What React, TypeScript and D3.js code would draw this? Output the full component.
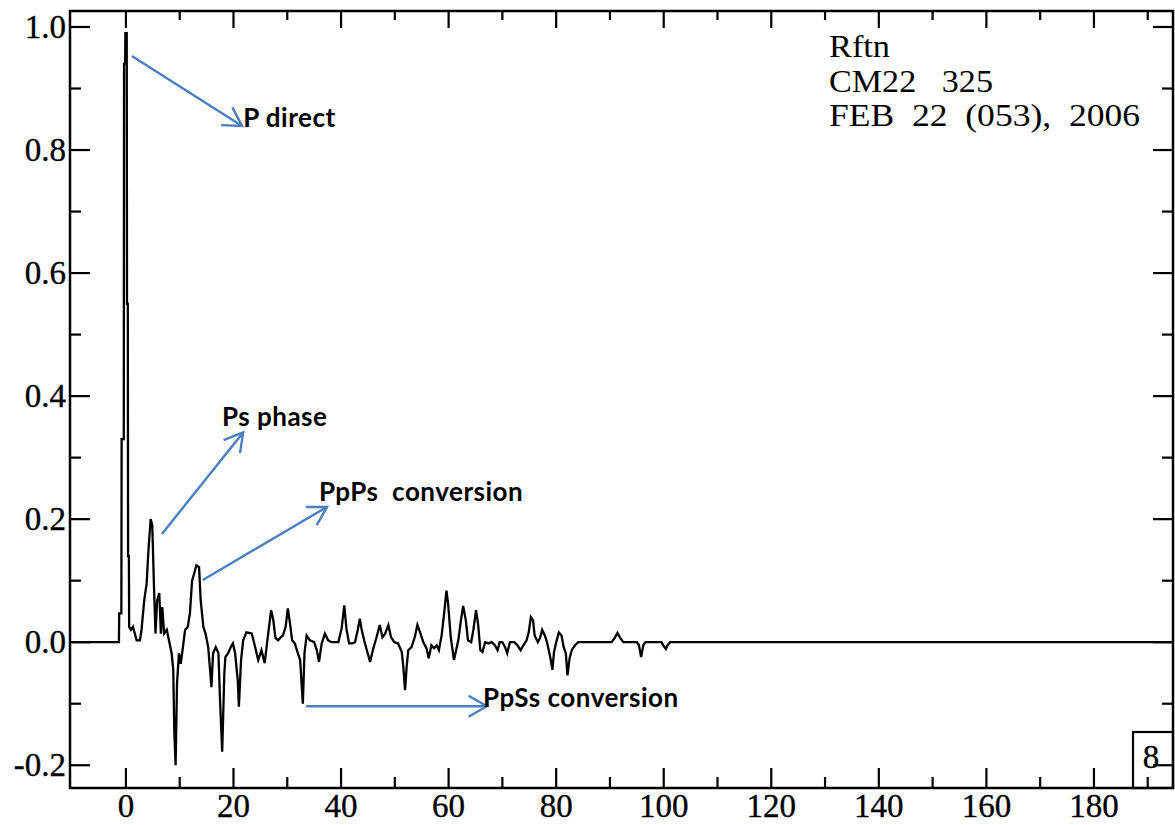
import React from 'react';
import * as d3 from 'd3';

// ---- data (time in s, amplitude) ----
const times = [
  -10.4, -1.3, -1.25, -0.85, -0.8, -0.4, -0.35, -0.15, -0.1, 0.15, 0.2, 0.35, 0.4, 0.55, 0.6, 0.93, 1.3,
  2.0, 2.6, 2.9, 3.4, 3.85, 4.15, 4.6, 4.9, 5.2, 5.5, 5.8, 6.2, 6.5, 6.76, 7.1, 7.6, 8.0, 8.5, 8.8,
  9.0, 9.24, 9.5, 9.86, 10.2, 10.6, 11.0, 11.5, 11.9, 12.3, 12.7, 13.1, 13.6, 13.9, 14.4, 14.8, 15.3,
  15.6, 15.9, 16.2, 16.7, 17.2, 17.5, 17.9, 18.3, 18.5, 19.0, 19.5, 19.9, 20.3, 20.8, 21.0, 21.4, 21.8,
  22.4, 23.4, 24.0, 24.6, 25.2, 25.8, 26.3, 27.0, 27.4, 27.8, 28.3, 28.8, 29.2, 29.7, 30.1, 30.5, 30.9,
  31.4, 31.9, 32.4, 32.7, 32.9, 33.2, 33.6, 34.2, 35.0, 35.5, 35.9, 36.4, 37.0, 37.6, 38.2, 39.5, 40.1,
  40.6, 41.0, 41.5, 42.1, 42.6, 43.1, 43.5, 43.8, 44.3, 44.8, 45.4, 46.0, 46.6, 47.2, 47.7, 48.2, 48.8,
  49.3, 49.9, 50.6, 51.3, 51.6, 51.9, 52.2, 52.5, 53.1, 53.7, 54.2, 54.7, 55.3, 55.9, 56.3, 56.8, 57.3,
  57.8, 58.2, 58.7, 59.1, 59.6, 59.9, 60.4, 61.0, 61.8, 62.3, 62.7, 63.2, 63.6, 64.2, 64.6, 65.1, 65.5,
  65.9, 66.3, 66.8, 67.4, 68.0, 68.6, 69.1, 69.5, 70.0, 70.5, 70.9, 71.4, 72.2, 72.8, 73.4, 73.9, 74.5,
  74.9, 75.3, 75.7, 76.0, 76.6, 77.0, 77.4, 77.9, 78.3, 78.7, 79.0, 79.3, 79.6, 80.1, 80.5, 81.0, 81.4,
  81.8, 82.1, 82.5, 82.9, 83.5, 84.1, 90.3, 90.9, 91.4, 91.9, 92.5, 95.0, 95.4, 95.8, 96.2, 96.6, 99.6,
  99.9, 100.4, 100.7, 101.2, 194.7,
];
const amplitudes = [
  0, 0, 0.047, 0.047, 0.33, 0.33, 0.94, 0.94, 0.99, 0.99, 0.55, 0.55, 0.14, 0.14, 0.025, 0.02, 0.025,
  0.003, 0.003, 0.02, 0.068, 0.095, 0.145, 0.2, 0.19, 0.095, 0.014, 0.068, 0.08, 0.014, 0.057, 0.014, 0.02, 0.003, -0.018, -0.045,
  -0.148, -0.2, -0.067, -0.018, -0.035, -0.008, 0.02, 0.025, 0.047, 0.1, 0.112, 0.125, 0.122, 0.068, 0.025, 0.014, -0.008,
  -0.04, -0.073, -0.018, -0.008, -0.018, -0.094, -0.178, -0.05, -0.024, -0.018, -0.008, -0.002, -0.018, -0.062, -0.105, -0.03, 0.003,
  0.016, 0.014, -0.007, -0.029, -0.013, -0.034, 0.003, 0.052, 0.036, 0.007, 0.003, 0.008, 0.011, 0.025, 0.055, 0.031, 0.003,
  -0.002, -0.016, -0.029, -0.073, -0.1, -0.018, 0.011, 0.003, 0, -0.013, -0.032, -0.002, 0.014, 0.003, 0, 0, 0.022,
  0.06, 0.022, -0.002, -0.002, 0, 0.02, 0.038, 0.022, 0.003, -0.013, -0.032, -0.01, 0.008, 0.028, 0.008, 0.014, 0.028,
  0.008, 0, -0.002, -0.016, -0.042, -0.078, -0.04, -0.013, -0.008, 0.008, 0.028, 0.016, 0, -0.01, -0.026, -0.005, -0.01,
  -0.005, -0.013, 0.011, 0.041, 0.084, 0.063, 0.008, -0.029, 0.003, 0.036, 0.059, 0.036, 0.003, 0, 0.02, 0.052, 0.028,
  -0.013, -0.016, 0, -0.002, 0, -0.005, -0.013, 0, 0, -0.008, -0.018, 0, 0, -0.005, -0.013, -0.005, 0.003,
  0.016, 0.041, 0.036, 0.011, 0, 0.007, 0.02, 0.011, 0, -0.016, -0.029, -0.045, -0.016, 0.003, 0.016, 0.011, -0.008,
  -0.018, -0.054, -0.026, -0.013, -0.005, 0, 0, 0.007, 0.015, 0.007, 0, 0, -0.005, -0.024, -0.005, 0, 0,
  -0.005, -0.011, -0.005, 0, 0,
];

const xMajorTicks = [0, 20, 40, 60, 80, 100, 120, 140, 160, 180];
const xMinorTicks = [10, 30, 50, 70, 90, 110, 130, 150, 170, 190];
const yMajorTicks = [-0.2, 0, 0.2, 0.4, 0.6, 0.8, 1.0];
const yMinorTicks = [-0.1, 0.1, 0.3, 0.5, 0.7, 0.9];
const yTickLabels = ['-0.2', '0.0', '0.2', '0.4', '0.6', '0.8', '1.0'];
const infoLines = ['Rftn', 'CM22   325', 'FEB  22  (053),  2006'];
const infoWidths = [61, 164, 311];
const panelNumber = '8';

const annotationLabels = ['P direct', 'Ps phase', 'PpPs  conversion', 'PpSs conversion'];
const arrowFrom: [number, number][] = [[1.1, 0.953], [6.7, 0.176], [14.3, 0.101], [33.5, -0.104]];
const arrowTo: [number, number][] = [[21.6, 0.839], [21.8, 0.341], [37.4, 0.22], [67.1, -0.104]];
const labelAt: [number, number][] = [[21.8, 0.837], [17.85, 0.351], [35.9, 0.229], [66.4, -0.106]];

const W = 1175;
const H = 825;
const frame = { left: 70, right: 1173, top: 11, bottom: 788 };
const SERIF = '"Liberation Serif", "Times New Roman", serif';
const SANS = 'Lato, "Open Sans", sans-serif';
const BLUE = '#4a7ebf';

export default function App() {
  const x = d3.scaleLinear().domain([-10.4, 194.7]).range([frame.left, frame.right]);
  const y = d3.scaleLinear().domain([-0.237, 1.026]).range([frame.bottom, frame.top]);
  const line = d3
    .line<number>()
    .x((_, i) => x(times[i]))
    .y((d) => y(d));
  const pathD = line(amplitudes) || '';

  const major = 20;
  const minor = 11;

  const arrowHead = (fx: number, fy: number, tx: number, ty: number) => {
    const a = Math.atan2(ty - fy, tx - fx);
    const L = 21;
    const s = Math.PI / 6;
    const p1 = [tx - L * Math.cos(a - s), ty - L * Math.sin(a - s)];
    const p2 = [tx - L * Math.cos(a + s), ty - L * Math.sin(a + s)];
    return `M${p1[0]},${p1[1]}L${tx},${ty}L${p2[0]},${p2[1]}`;
  };

  const serifStroke = { stroke: '#000', strokeWidth: 0.35 };

  return (
    <svg
      width={W}
      height={H}
      style={{ position: 'absolute', left: 0, top: 0, background: '#fff' }}
    >
      <rect x={0} y={0} width={W} height={H} fill="#fff" />
      <defs>
        <clipPath id="plotclip">
          <rect x={frame.left} y={frame.top} width={frame.right - frame.left} height={frame.bottom - frame.top} />
        </clipPath>
      </defs>

      {/* ticks */}
      <g stroke="#000" strokeWidth={2.2}>
        {xMajorTicks.map((t) => (
          <g key={'xM' + t}>
            <line x1={x(t)} x2={x(t)} y1={frame.bottom} y2={frame.bottom - major} />
            <line x1={x(t)} x2={x(t)} y1={frame.top} y2={frame.top + major - 3} />
          </g>
        ))}
        {xMinorTicks.map((t) => (
          <g key={'xm' + t}>
            <line x1={x(t)} x2={x(t)} y1={frame.bottom} y2={frame.bottom - minor} />
            <line x1={x(t)} x2={x(t)} y1={frame.top} y2={frame.top + minor - 2} />
          </g>
        ))}
        {yMajorTicks.map((v) => (
          <g key={'yM' + v}>
            <line x1={frame.left} x2={frame.left + major} y1={y(v)} y2={y(v)} />
            <line x1={frame.right} x2={frame.right - major} y1={y(v)} y2={y(v)} />
          </g>
        ))}
        {yMinorTicks.map((v) => (
          <g key={'ym' + v}>
            <line x1={frame.left} x2={frame.left + minor} y1={y(v)} y2={y(v)} />
            <line x1={frame.right} x2={frame.right - minor} y1={y(v)} y2={y(v)} />
          </g>
        ))}
      </g>

      {/* waveform */}
      <path
        d={pathD}
        fill="none"
        stroke="#000"
        strokeWidth={2.3}
        strokeLinejoin="miter"
        clipPath="url(#plotclip)"
      />

      {/* frame */}
      <rect
        x={frame.left}
        y={frame.top}
        width={frame.right - frame.left}
        height={frame.bottom - frame.top}
        fill="none"
        stroke="#000"
        strokeWidth={2.5}
      />

      {/* panel number box */}
      <rect x={1133} y={732} width={frame.right - 1133} height={frame.bottom - 732} fill="none" stroke="#000" strokeWidth={2.2} />
      <text x={1151} y={768} fontFamily={SERIF} fontSize={33} textAnchor="middle" fill="#000" {...serifStroke}>
        {panelNumber}
      </text>

      {/* axis labels */}
      {xMajorTicks.map((t) => (
        <text key={'xl' + t} x={x(t)} y={817} fontFamily={SERIF} fontSize={33} textAnchor="middle" fill="#000" {...serifStroke}>
          {t}
        </text>
      ))}
      {yMajorTicks.map((v, i) => (
        <text
          key={'yl' + v}
          x={frame.left - 4}
          y={y(v) + 11}
          fontFamily={SERIF}
          fontSize={33}
          textAnchor="end"
          fill="#000"
          {...serifStroke}
        >
          {yTickLabels[i]}
        </text>
      ))}

      {/* info text */}
      {infoLines.map((s, i) => (
        <text
          key={'info' + i}
          x={829}
          y={57 + i * 34.5}
          fontFamily={SERIF}
          fontSize={31}
          textLength={infoWidths[i]}
          lengthAdjust="spacingAndGlyphs"
          fill="#000"
          style={{ whiteSpace: 'pre' }}
          xmlSpace="preserve"
        >
          {s}
        </text>
      ))}

      {/* annotations */}
      {annotationLabels.map((lab, i) => {
        const fx = x(arrowFrom[i][0]);
        const fy = y(arrowFrom[i][1]);
        const tx = x(arrowTo[i][0]);
        const ty = y(arrowTo[i][1]);
        return (
          <g key={'ann' + i}>
            <line x1={fx} y1={fy} x2={tx} y2={ty} stroke={BLUE} strokeWidth={2.4} />
            <path d={arrowHead(fx, fy, tx, ty)} fill="none" stroke={BLUE} strokeWidth={2.4} />
            <text
              x={x(labelAt[i][0])}
              y={y(labelAt[i][1])}
              fontFamily={SANS}
              fontWeight={700}
              fontSize={26}
              letterSpacing={0.5}
              fill="#000"
              style={{ whiteSpace: 'pre' }}
              xmlSpace="preserve"
            >
              {lab}
            </text>
          </g>
        );
      })}
    </svg>
  );
}
